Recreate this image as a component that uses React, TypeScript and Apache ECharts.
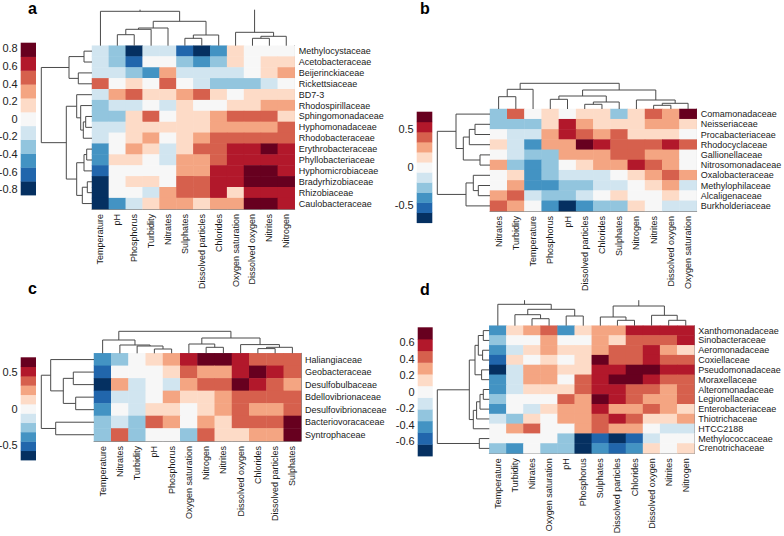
import React, { useEffect, useRef } from "react";
import * as echarts from "echarts";

const PALETTE = ["#053061", "#2166ac", "#4393c3", "#92c5de", "#d1e5f0", "#f7f7f7", "#fddbc7", "#f4a582", "#d6604d", "#b2182b", "#67001f"];
const FONT = "'Liberation Sans', Arial, Helvetica, sans-serif";

// ---------- panel a ----------
const aCols = ["Temperature", "pH", "Phosphorus", "Turbidity", "Nitrates", "Sulphates", "Dissolved particles", "Chlorides", "Oxygen saturation", "Dissolved oxygen", "Nitrites", "Nitrogen"];
const aRows = ["Methylocystaceae", "Acetobacteraceae", "Beijerinckiaceae", "Rickettsiaceae", "BD7-3", "Rhodospirillaceae", "Sphingomonadaceae", "Hyphomonadaceae", "Rhodobacteraceae", "Erythrobacteraceae", "Phyllobacteriaceae", "Hyphomicrobiaceae", "Bradyrhizobiaceae", "Rhizobiaceae", "Caulobacteraceae"];
const aLevels = [
  [-1, -2, -5, -1, -1, -4, -5, -3, 1, 0, 0, 0],
  [-1, -2, -4, 0, 0, -2, -3, -2, 1, 0, 1, 1],
  [-1, -1, -2, -3, 2, -1, -1, -1, -1, 0, 1, 2],
  [3, 0, 1, 0, 3, 0, -1, -2, -2, -2, -1, 0],
  [-1, 2, 3, 1, 1, 2, 3, 1, 0, 1, 1, 1],
  [-2, -1, -1, 0, -1, 1, 0, 0, 1, 1, 2, 2],
  [-2, -2, 1, 3, 0, 1, 1, 2, 3, 3, 3, 1],
  [-1, -1, 1, 1, 1, 1, 1, 2, 2, 2, 2, 3],
  [-1, 0, 1, 2, 0, 1, 2, 3, 3, 3, 3, 3],
  [-3, 0, 2, 1, -1, 1, 3, 3, 4, 4, 5, 4],
  [-3, 1, 1, 0, -1, 2, 2, 3, 4, 4, 4, 4],
  [-4, 0, 0, 0, 0, 2, 2, 4, 4, 5, 5, 4],
  [-5, 0, 1, 1, 0, 3, 3, 4, 4, 5, 5, 5],
  [-5, 0, 0, -1, 2, 3, 3, 4, 1, 4, 4, 4],
  [-5, -3, -1, 1, 2, 2, 1, 2, 2, 5, 5, 4],
];
const aColTree = [[1, 2, 11], [12, 3, 16.4], [13, 4, 17.7], [5, 6, 7.4], [15, 7, 10.7], [14, 16, 24.4], [0, 17, 34.4], [9, 10, 7.4], [19, 11, 9.4], [8, 20, 13.4], [18, 21, 40]];
const aRowTree = [[0, 1, 8], [2, 3, 13.7], [15, 16, 23], [6, 7, 6.3], [18, 8, 8.7], [5, 19, 11.3], [4, 20, 15.3], [9, 10, 5.3], [22, 11, 8], [12, 13, 4.7], [24, 14, 9.7], [23, 25, 15.3], [21, 26, 25.7], [17, 27, 50.7]];
const aTicks = [-0.8, -0.6, -0.4, -0.2, 0, 0.2, 0.4, 0.6, 0.8];
const aRange = 0.865;

// ---------- panel b ----------
const bCols = ["Nitrates", "Turbidity", "Temperature", "Phosphorus", "pH", "Dissolved particles", "Chlorides", "Sulphates", "Nitrogen", "Nitrites", "Dissolved oxygen", "Oxygen saturation"];
const bRows = ["Comamonadaceae", "Neisseriaceae", "Procabacteriaceae", "Rhodocyclaceae", "Gallionellaceae", "Nitrosomonadaceae", "Oxalobacteraceae", "Methylophilaceae", "Alcaligenaceae", "Burkholderiaceae"];
const bLevels = [
  [-2, 3, 0, 1, 0, 1, 1, -2, 1, 3, 2, 5],
  [-2, -2, -2, 1, 4, 2, 1, 1, 1, 2, 2, 1],
  [0, -1, -1, 2, 4, 3, 2, 3, 1, 1, 1, 0],
  [1, -1, -3, 2, 2, 5, 4, 3, 3, 3, 4, 3],
  [0, -1, -2, -2, 2, 2, 2, 3, 3, 2, 2, 0],
  [2, -2, -3, -2, 0, 1, 2, 2, 4, 3, 2, 0],
  [0, 1, -3, -2, -1, -1, -1, 0, 1, 2, 3, 2],
  [0, 2, -3, -3, -2, -2, -1, -1, 0, 1, 2, -1],
  [2, 3, -1, -2, -2, -1, 0, 1, 0, 0, 1, 0],
  [3, 2, 0, -3, -5, -3, -2, -2, 1, 0, -1, -1],
];
const bColTree = [[0, 1, 12.3], [12, 2, 19.7], [3, 4, 9.7], [5, 6, 4.7], [15, 7, 7], [14, 16, 13], [9, 10, 3.7], [18, 11, 5.7], [8, 19, 9], [17, 20, 19], [13, 21, 25.7]];
const bRowTree = [[1, 2, 15], [10, 3, 20.7], [4, 5, 10], [11, 12, 26.7], [0, 13, 34], [7, 8, 11.7], [6, 15, 16.7], [16, 9, 24], [14, 17, 52.7]];
const bTicks = [-0.5, 0, 0.5];
const bRange = 0.73;

// ---------- panel c ----------
const cCols = ["Temperature", "Nitrates", "Turbidity", "pH", "Phosphorus", "Oxygen saturation", "Nitrogen", "Nitrites", "Dissolved oxygen", "Chlorides", "Dissolved particles", "Sulphates"];
const cRows = ["Haliangiaceae", "Geobacteraceae", "Desulfobulbaceae", "Bdellovibrionaceae", "Desulfovibrionaceae", "Bacteriovoracaceae", "Syntrophaceae"];
const cLevels = [
  [-3, -2, 0, 1, 2, 4, 5, 5, 4, 3, 3, 3],
  [-4, 0, 0, 0, 1, 3, 2, 2, 4, 5, 4, 3],
  [-5, 2, -1, 0, -1, 2, 3, 3, 5, 4, 3, 2],
  [-4, -1, -1, 0, 2, 1, 1, 2, 3, 3, 3, 3],
  [-3, 0, -1, 1, 1, 0, 1, 2, 3, 2, 2, 3],
  [-2, -1, -2, 3, 2, 0, 2, 1, 3, 3, 3, 5],
  [-2, 3, -2, 0, 0, -2, 3, 1, 1, 2, 2, 5],
];
const cColTree = [[3, 4, 4.3], [2, 12, 7.3], [1, 13, 8.3], [0, 14, 13.3], [6, 7, 6], [5, 16, 9.3], [9, 10, 4.7], [18, 11, 6], [8, 19, 8.7], [17, 20, 15.3], [15, 21, 22]];
const cRowTree = [[1, 2, 20.7], [3, 4, 18.3], [7, 8, 30.7], [0, 9, 43.3], [5, 6, 38.3], [10, 11, 52.7]];
const cTicks = [-0.5, 0, 0.5];
const cRange = 0.71;

// ---------- panel d ----------
const dCols = ["Temperature", "Turbidity", "Nitrates", "Oxygen saturation", "pH", "Phosphorus", "Sulphates", "Dissolved particles", "Chlorides", "Dissolved oxygen", "Nitrites", "Nitrogen"];
const dRows = ["Xanthomonadaceae", "Sinobacteraceae", "Aeromonadaceae", "Coxiellaceae", "Pseudomonadaceae", "Moraxellaceae", "Alteromonadaceae", "Legionellaceae", "Enterobacteriaceae", "Thiotrichaceae", "HTCC2188", "Methylococcaceae", "Crenotrichaceae"];
const dLevels = [
  [-3, 1, 2, 3, -3, 1, 2, 2, 4, 4, 4, 4],
  [-2, 0, 0, 2, 0, 0, 2, 1, 3, 3, 3, 4],
  [-3, -1, 1, 2, 1, 1, 2, 3, 3, 4, 2, 1],
  [-4, 1, 0, 1, 0, 1, 5, 3, 3, 4, 3, 3],
  [-5, -1, 2, 2, 1, 1, 4, 4, 5, 5, 4, 4],
  [-3, -1, 2, 2, 0, 3, 4, 5, 5, 4, 3, 3],
  [-3, -1, 1, 1, 1, 3, 4, 4, 3, 3, 2, 3],
  [-2, 0, 0, 0, 3, 2, 5, 4, 3, 2, 2, 3],
  [-3, 0, -1, 1, 2, 2, 4, 2, 2, 3, 2, 1],
  [-1, -2, 1, 0, 2, 2, 3, 4, 3, 1, 1, 2],
  [0, 2, 3, 0, 0, 2, 3, 2, 2, 0, -1, -1],
  [0, 0, 0, 0, -2, -5, -4, -5, -4, -1, 0, 0],
  [-2, -3, 0, -2, -2, -5, -3, -4, -3, 1, 0, 1],
];
const dColTree = [[2, 3, 7], [1, 12, 11], [4, 5, 9.7], [13, 14, 16.4], [0, 15, 21.4], [7, 8, 5.4], [6, 17, 8.7], [10, 11, 5.4], [9, 19, 10.4], [18, 20, 19.7], [16, 21, 30]];
const dRowTree = [[0, 1, 6], [2, 3, 6.7], [13, 14, 11], [4, 5, 7.7], [15, 16, 14.3], [6, 7, 6], [18, 8, 9.3], [19, 9, 12.7], [20, 10, 16], [17, 21, 20], [11, 12, 10], [22, 23, 52]];
const dTicks = [-0.6, -0.4, -0.2, 0, 0.2, 0.4, 0.6];
const dRange = 0.78;

const panels = [
  { letter: "a", cols: aCols, rows: aRows, levels: aLevels, colTree: aColTree, rowTree: aRowTree, ticks: aTicks, range: aRange,
    heat: { left: 92, top: 45.7, width: 202.7, height: 163.3 }, topH: 36, leftW: 56,
    bar: { left: 20.7, top: 42.7, width: 15.3, height: 152.3 }, label: { x: 28, y: 0.5 } },
  { letter: "b", cols: bCols, rows: bRows, levels: bLevels, colTree: bColTree, rowTree: bRowTree, ticks: bTicks, range: bRange,
    heat: { left: 490, top: 109, width: 206.7, height: 102 }, topH: 27, leftW: 58,
    bar: { left: 416.7, top: 111.7, width: 15.6, height: 111 }, label: { x: 420, y: 0.5 } },
  { letter: "c", cols: cCols, rows: cRows, levels: cLevels, colTree: cColTree, rowTree: cRowTree, ticks: cTicks, range: cRange,
    heat: { left: 94, top: 353.3, width: 207, height: 87.7 }, topH: 23, leftW: 56,
    bar: { left: 20.7, top: 357.3, width: 15.3, height: 102.7 }, label: { x: 28, y: 280.5 } },
  { letter: "d", cols: dCols, rows: dRows, levels: dLevels, colTree: dColTree, rowTree: dRowTree, ticks: dTicks, range: dRange,
    heat: { left: 489.3, top: 325.7, width: 205, height: 127.6 }, topH: 25.5, leftW: 56,
    bar: { left: 417.7, top: 327.3, width: 15, height: 128.7 }, label: { x: 420, y: 281.5 } },
];

function dendroSegments(n: number, merges: number[][]) {
  const pos: number[] = [];
  const ht: number[] = [];
  for (let i = 0; i < n; i++) { pos[i] = i + 0.5; ht[i] = 0; }
  return merges.map(([a, b, h], k) => {
    pos[n + k] = (pos[a] + pos[b]) / 2;
    ht[n + k] = h;
    return [pos[a], ht[a], pos[b], ht[b], h];
  });
}

function makeDendro(orient: "top" | "left", hMax: number) {
  return (params: any, api: any) => {
    const pa = api.value(0), ha = api.value(1), pb = api.value(2), hb = api.value(3), h = api.value(4);
    const pt = (p: number, hh: number) => (orient === "top" ? api.coord([p, hh]) : api.coord([hh, p]));
    const style = { stroke: "#4a4a4a", lineWidth: 1, fill: "none" };
    if (h > hMax) {
      return {
        type: "group",
        children: [
          { type: "polyline", shape: { points: [pt(pa, ha), pt(pa, hMax)] }, style },
          { type: "polyline", shape: { points: [pt(pb, hb), pt(pb, hMax)] }, style },
        ],
      };
    }
    return { type: "polyline", shape: { points: [pt(pa, ha), pt(pa, h), pt(pb, h), pt(pb, hb)] }, style };
  };
}

const barRender = (params: any, api: any) => {
  const i = api.value(0), lo = api.value(1), hi = api.value(2);
  const a = api.coord([0, hi]);
  const b = api.coord([1, lo]);
  return { type: "rect", shape: { x: a[0], y: a[1], width: b[0] - a[0], height: b[1] - a[1] + 0.4 }, style: { fill: PALETTE[i] } };
};

function buildOption() {
  const grid: any[] = [];
  const xAxis: any[] = [];
  const yAxis: any[] = [];
  const series: any[] = [];
  const heatIdx: number[] = [];
  panels.forEach((p) => {
    const g = grid.length;
    const h = p.heat;
    const base = { outerBoundsMode: "none", containLabel: false };
    grid.push({ ...base, left: h.left, top: h.top, width: h.width, height: h.height });
    grid.push({ ...base, left: h.left, top: h.top - p.topH, width: h.width, height: p.topH });
    grid.push({ ...base, left: h.left - p.leftW, top: h.top, width: p.leftW, height: h.height });
    grid.push({ ...base, left: p.bar.left, top: p.bar.top, width: p.bar.width, height: p.bar.height });

    xAxis.push({
      gridIndex: g, type: "category", data: p.cols, position: "bottom",
      axisLine: { show: true, lineStyle: { color: "#8a8a8a", width: 1 } },
      axisTick: { show: false }, splitLine: { show: false },
      axisLabel: { rotate: 90, interval: 0, margin: 5, fontSize: 9, color: "#1a1a1a", fontFamily: FONT },
    });
    yAxis.push({
      gridIndex: g, type: "category", data: p.rows, inverse: true, position: "right",
      axisLine: { show: true, lineStyle: { color: "#8a8a8a", width: 1 } },
      axisTick: { show: false }, splitLine: { show: false },
      axisLabel: { interval: 0, margin: 4, fontSize: 9, color: "#1a1a1a", fontFamily: FONT },
    });
    xAxis.push({ gridIndex: g + 1, type: "value", min: 0, max: p.cols.length, show: false });
    yAxis.push({ gridIndex: g + 1, type: "value", min: 0, max: p.topH, show: false });
    xAxis.push({ gridIndex: g + 2, type: "value", min: 0, max: p.leftW, inverse: true, show: false });
    yAxis.push({ gridIndex: g + 2, type: "value", min: 0, max: p.rows.length, inverse: true, show: false });
    xAxis.push({ gridIndex: g + 3, type: "value", min: 0, max: 1, show: false });
    yAxis.push({
      gridIndex: g + 3, type: "value", min: -p.range, max: p.range, position: "left",
      axisLine: { show: false }, axisTick: { show: false }, splitLine: { show: false },
      axisLabel: {
        customValues: p.ticks, margin: 3, fontSize: 11, color: "#222", fontFamily: FONT,
        formatter: (v: number) => { const r = Math.round(v * 10) / 10; return r === 0 ? "0" : String(r); },
      },
    });

    const heatData: number[][] = [];
    p.levels.forEach((row, ri) => row.forEach((v, ci) => heatData.push([ci, ri, v])));
    heatIdx.push(series.length);
    series.push({ type: "heatmap", xAxisIndex: g, yAxisIndex: g, data: heatData, itemStyle: { borderWidth: 0 }, emphasis: { disabled: true }, silent: true });
    series.push({ type: "custom", xAxisIndex: g + 1, yAxisIndex: g + 1, data: dendroSegments(p.cols.length, p.colTree), encode: { x: [0, 2], y: [1, 3, 4] }, renderItem: makeDendro("top", p.topH), silent: true });
    series.push({ type: "custom", xAxisIndex: g + 2, yAxisIndex: g + 2, data: dendroSegments(p.rows.length, p.rowTree), encode: { x: [1, 3, 4], y: [0, 2] }, renderItem: makeDendro("left", p.leftW), silent: true });
    const step = (2 * p.range) / PALETTE.length;
    const barData = PALETTE.map((c, i) => [i, -p.range + i * step, -p.range + (i + 1) * step]);
    series.push({ type: "custom", xAxisIndex: g + 3, yAxisIndex: g + 3, data: barData, encode: { x: 0, y: [1, 2] }, renderItem: barRender, silent: true });
  });

  return {
    animation: false,
    backgroundColor: "#ffffff",
    textStyle: { fontFamily: FONT },
    grid, xAxis, yAxis, series,
    visualMap: [{
      type: "piecewise", show: false, dimension: 2, seriesIndex: heatIdx,
      pieces: PALETTE.map((c, i) => ({ value: i - 5, color: c })),
    }],
    graphic: panels.map((p) => ({
      type: "text", left: p.label.x, top: p.label.y,
      style: { text: p.letter, fontSize: 16, fontWeight: "bold", fontFamily: FONT, fill: "#000" },
    })),
  };
}

export default function App() {
  const ref = useRef<HTMLDivElement>(null);
  useEffect(() => {
    document.body.style.margin = "0";
    if (!ref.current) return;
    const chart = echarts.init(ref.current, undefined, { renderer: "svg" });
    chart.setOption(buildOption() as any);
    return () => chart.dispose();
  }, []);
  return <div ref={ref} style={{ position: "fixed", left: 0, top: 0, width: 784, height: 536 }} />;
}
